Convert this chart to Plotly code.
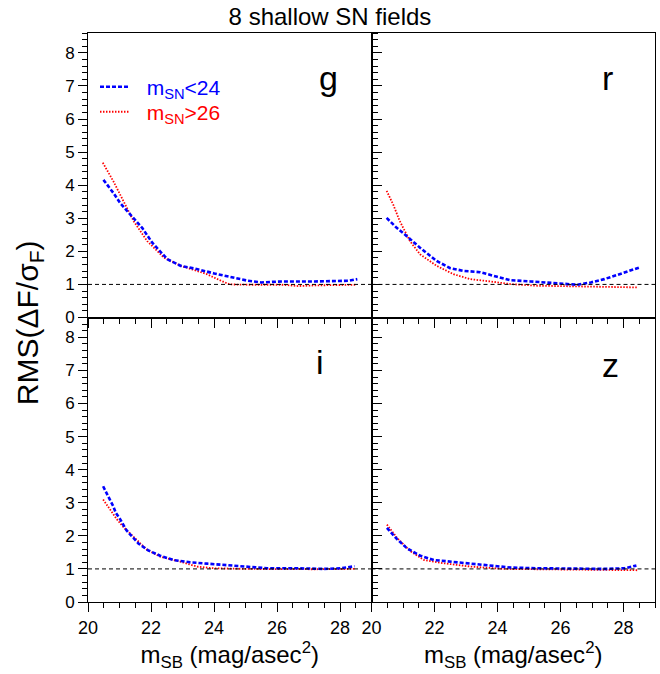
import plotly.graph_objects as go
from plotly.subplots import make_subplots

FONT = "Liberation Sans, Arial, Helvetica, sans-serif"

bands = ["g", "r", "i", "z"]

# m_SN < 24 (blue, dashed)
g_bright_x = [20.49, 20.81, 21.02, 21.34, 21.72, 22.04, 22.52, 22.95, 23.48, 24.01, 24.55, 25.08, 25.5, 26.15, 27.2, 28.28, 28.55]
g_bright_y = [4.16, 3.76, 3.46, 3.11, 2.71, 2.26, 1.76, 1.56, 1.46, 1.33, 1.21, 1.11, 1.06, 1.09, 1.09, 1.11, 1.16]
r_bright_x = [20.48, 20.8, 21.12, 21.54, 22.07, 22.5, 22.92, 23.45, 23.99, 24.41, 25.05, 25.58, 26.11, 26.54, 26.96, 27.39, 27.81, 28.24, 28.5]
r_bright_y = [3.01, 2.71, 2.46, 2.11, 1.71, 1.49, 1.41, 1.37, 1.23, 1.13, 1.09, 1.06, 1.01, 0.99, 1.06, 1.16, 1.29, 1.43, 1.51]
i_bright_x = [20.48, 20.59, 20.69, 20.8, 20.88, 21.01, 21.22, 21.38, 21.6, 21.91, 22.29, 22.71, 23.24, 23.78, 24.31, 24.84, 25.27, 25.69, 26.65, 27.5, 28.03, 28.46]
i_bright_y = [3.5, 3.27, 3.1, 2.9, 2.7, 2.52, 2.17, 2.0, 1.77, 1.56, 1.4, 1.27, 1.2, 1.16, 1.12, 1.09, 1.05, 1.02, 1.02, 1.0, 1.02, 1.08]
z_bright_x = [20.49, 20.81, 21.13, 21.55, 21.98, 22.51, 23.15, 23.79, 24.43, 25.28, 26.34, 27.4, 28.04, 28.41]
z_bright_y = [2.24, 1.9, 1.62, 1.4, 1.27, 1.22, 1.15, 1.1, 1.04, 1.02, 1.01, 1.0, 1.02, 1.1]

# m_SN > 26 (red, dotted)
g_faint_x = [20.47, 20.81, 21.13, 21.45, 21.88, 22.41, 22.95, 23.48, 23.75, 24.2, 24.5, 25.08, 26.15, 26.68, 27.2, 28.5]
g_faint_y = [4.68, 4.11, 3.51, 2.91, 2.31, 1.81, 1.56, 1.41, 1.32, 1.12, 1.0, 0.99, 0.99, 0.95, 0.97, 0.99]
r_faint_x = [20.48, 20.69, 20.9, 21.22, 21.54, 22.07, 22.6, 23.13, 23.77, 24.41, 25.26, 26.32, 27.39, 28.45]
r_faint_y = [3.83, 3.41, 2.91, 2.31, 1.91, 1.56, 1.31, 1.16, 1.09, 1.01, 0.96, 0.95, 0.94, 0.91]
i_faint_x = [20.48, 20.69, 20.9, 21.12, 21.44, 21.86, 22.29, 22.93, 23.46, 23.99, 25.05, 26.12, 27.18, 28.46]
i_faint_y = [3.1, 2.82, 2.52, 2.27, 1.97, 1.59, 1.37, 1.22, 1.07, 1.02, 1.0, 0.99, 0.99, 1.0]
z_faint_x = [20.49, 20.81, 21.23, 21.66, 22.3, 23.15, 24.21, 25.28, 26.34, 27.4, 28.47]
z_faint_y = [2.34, 1.94, 1.54, 1.27, 1.17, 1.07, 1.0, 0.99, 1.0, 0.99, 0.96]

bright = {"g": (g_bright_x, g_bright_y), "r": (r_bright_x, r_bright_y),
          "i": (i_bright_x, i_bright_y), "z": (z_bright_x, z_bright_y)}
faint = {"g": (g_faint_x, g_faint_y), "r": (r_faint_x, r_faint_y),
         "i": (i_faint_x, i_faint_y), "z": (z_faint_x, z_faint_y)}

x_ticks = [20, 22, 24, 26, 28]
y_ticks = [0, 1, 2, 3, 4, 5, 6, 7, 8]
ref_level = 1.0

fig = make_subplots(rows=2, cols=2, horizontal_spacing=0, vertical_spacing=0)

pos = {"g": (1, 1), "r": (1, 2), "i": (2, 1), "z": (2, 2)}
label_pos = {"g": (0.847, 0.842), "r": (0.832, 0.842), "i": (0.819, 0.842), "z": (0.843, 0.832)}

NB = "\u00a0\u00a0"
for b in bands:
    row, col = pos[b]
    first = b == "g"
    fx, fy = faint[b]
    bx, by = bright[b]
    fig.add_trace(go.Scatter(x=fx, y=fy, mode="lines",
                             line=dict(color="red", width=1.8, dash="1.5px,1.5px"),
                             name=NB + "<span style='color:red'>m<sub>SN</sub>>26</span>",
                             legend="legend2", showlegend=first), row=row, col=col)
    fig.add_trace(go.Scatter(x=bx, y=by, mode="lines",
                             line=dict(color="blue", width=2.6, dash="4px,2px"),
                             name=NB + "<span style='color:blue'>m<sub>SN</sub><24</span>",
                             legend="legend", showlegend=first), row=row, col=col)
    fig.add_hline(y=ref_level, line=dict(color="black", width=1, dash="4px,3px"), row=row, col=col)
    lx, ly = label_pos[b]
    xr = "x" if (row, col) == (1, 1) else "x%d" % ((row - 1) * 2 + col)
    yr = "y" if (row, col) == (1, 1) else "y%d" % ((row - 1) * 2 + col)
    fig.add_annotation(text=b, xref=xr + " domain", yref=yr + " domain", x=lx, y=ly,
                       showarrow=False, font=dict(size=34, color="black", family=FONT),
                       xanchor="center", yanchor="middle")

for row in (1, 2):
    for col in (1, 2):
        fig.update_xaxes(range=[20, 29], tickvals=x_ticks, ticks="outside", ticklen=9,
                         tickwidth=1, tickcolor="black", showline=True, linecolor="black",
                         linewidth=1, mirror=True, showgrid=False, zeroline=False,
                         showticklabels=(row == 2),
                         tickfont=dict(size=18, family=FONT, color="black"),
                         minor=dict(dtick=0.5, tick0=20, ticks="outside", ticklen=5,
                                    tickcolor="black", showgrid=False),
                         row=row, col=col)
        if col == 1:
            fig.update_yaxes(range=[0, 8.6], tickvals=y_ticks, ticks="outside", ticklen=9,
                             tickwidth=1, tickcolor="black", showline=True, linecolor="black",
                             linewidth=1, mirror="ticks", showgrid=False, zeroline=False,
                             tickfont=dict(size=17, family=FONT, color="black"),
                             minor=dict(dtick=0.2, tick0=0, ticks="outside", ticklen=5,
                                        tickcolor="black", showgrid=False),
                             row=row, col=col)
        else:
            fig.update_yaxes(range=[0, 8.6], showticklabels=False, ticks="",
                             showline=True, linecolor="black", linewidth=1, mirror=True,
                             showgrid=False, zeroline=False, row=row, col=col)
        if row == 2:
            fig.update_xaxes(title=dict(text="m<sub>SB</sub> (mag/asec<sup>2</sup>)",
                                        font=dict(size=24, family=FONT, color="black"),
                                        standoff=4),
                             row=row, col=col)

leg_common = dict(xanchor="left", yanchor="middle", bgcolor="rgba(0,0,0,0)",
                  font=dict(size=21, family=FONT), itemwidth=30)
fig.update_layout(
    width=660, height=674,
    margin=dict(l=88, r=5, t=33, b=72),
    paper_bgcolor="white", plot_bgcolor="white",
    font=dict(family=FONT, color="black"),
    title=dict(text="8 shallow SN fields", x=0.5, xanchor="center", xref="container",
               y=1 - 17 / 674, yanchor="middle", yref="container",
               font=dict(size=24, family=FONT, color="black")),
    legend=dict(x=0.0123, y=0.905, **leg_common),
    legend2=dict(x=0.0123, y=0.861, **leg_common),
    showlegend=True,
)

fig.add_annotation(text="RMS(ΔF/σ<sub>F</sub>)", xref="paper", yref="paper",
                   x=-0.104, y=0.49, textangle=-90, showarrow=False,
                   font=dict(size=30, family=FONT, color="black"),
                   xanchor="center", yanchor="middle")

fig.write_html("out.html")
